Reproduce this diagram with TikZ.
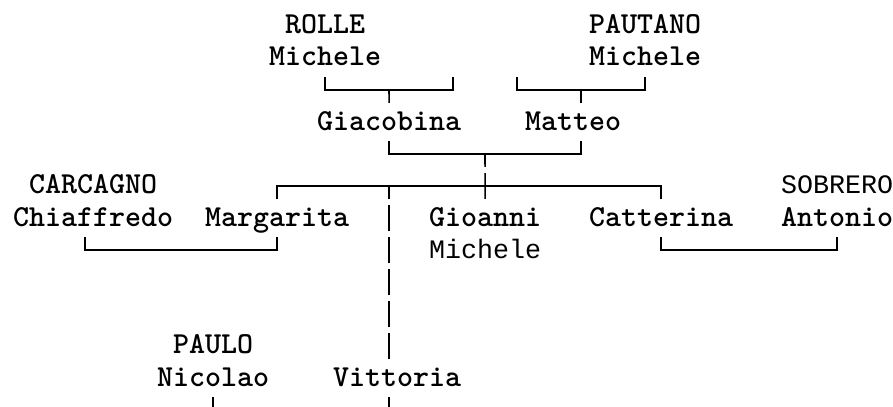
\documentclass[tikz,border=0pt]{standalone}
\usepackage{fontspec}
\usepackage{tikz}
\usetikzlibrary{positioning, calc}
\newfontfamily\sansmono{Liberation Mono}
\tikzstyle{person} = [inner sep=0pt, text height=21pt, text depth=5pt, font=\fontsize{30.48pt}{32pt}\ttfamily\bfseries]
\tikzstyle{person2} = [person, font=\fontsize{26.66pt}{32pt}\sansmono]
\tikzstyle{link} = [line width=1.6pt]
\tikzstyle{gapline} = [link, dash pattern=on 25.6pt off 6.4pt, dash phase=12.8pt]

\begin{document}
\begin{tikzpicture}[x=16pt, y=-32pt]
    \useasboundingbox (-0.8125,-0.8125) rectangle (55,11.906);
    \coordinate (bottom) at (0,11.906);

    % Grandparents (top)
    \node (rolle) [person, anchor=west] at (16,1) {Michele};
    \node (rolleS) [person, above=6pt of rolle] {ROLLE};
    \node (pautano) [person, anchor=west] at (36,1) {Michele};
    \node (pautanoS) [person, above=6pt of pautano] {PAUTANO};

    % Parents
    \node (giacobina) [person, anchor=west] at (19,3) {Giacobina};
    \node (matteo) [person, anchor=west] at (32,3) {Matteo};

    % Children with spouses
    \node (chiaffredo) [person, anchor=west] at (0,6) {Chiaffredo};
    \node (chiaffredoS) [person, above=6pt of chiaffredo] {CARCAGNO};
    \node (margarita) [person, anchor=west] at (12,6) {Margarita};
    \node (gioanni) [person, anchor=west] at (26,6) {Gioanni};
    \node (gioanni2) [person2, below=6pt of gioanni] {Michele};
    \node (catterina) [person, anchor=west] at (36,6) {Catterina};
    \node (antonio) [person, anchor=west] at (48,6) {Antonio};
    \node (antonioS) [person2, above=6pt of antonio] {SOBRERO};

    % Bottom
    \node (nicolao) [person, anchor=west] at (9,11) {Nicolao};
    \node (nicolaoS) [person, above=6pt of nicolao] {PAULO};
    \node (vittoria) [person, anchor=west] at (20,11) {Vittoria};

    % Couples and descent lines
    \coordinate (rolleM) at (23.5,2);
    \coordinate (rolleX) at (27.5,1.6);
    \draw [link, shorten <=6pt] (rolle.south) |- (rolleM) -| (rolleX);
    \draw [link, shorten >=6pt] (rolleM) -- (giacobina.north);

    \coordinate (pautanoM) at (35.5,2);
    \coordinate (pautanoX) at (31.5,1.6);
    \draw [link, shorten <=6pt] (pautano.south) |- (pautanoM) -| (pautanoX);
    \draw [link, shorten >=6pt] (pautanoM) -- (pautanoM |- matteo.north);

    \coordinate (parentsM) at (29.5,4);
    \draw [link, shorten <=6pt, shorten >=6pt] (giacobina.south) |- (parentsM) -| ([xshift=8pt]matteo.south);
    \draw [gapline, shorten >=6pt] (parentsM) -- (gioanni.north);

    \coordinate (sibM) at (29.5,5);
    \coordinate (sibV) at (23.5,5);
    \draw [link, shorten <=6pt, shorten >=6pt] (margarita.north) |- (sibM) -| (catterina.north);
    \draw [gapline, shorten >=6pt] (sibV) -- (sibV |- vittoria.north);

    \coordinate (carcagnoM) at (10.5,7);
    \draw [link, shorten <=6pt, shorten >=6pt] ([xshift=-8pt]chiaffredo.south) |- (carcagnoM) -| (margarita.south);
    \coordinate (sobreroM) at (46,7);
    \draw [link, shorten <=6pt, shorten >=6pt] (catterina.south) |- (sobreroM) -| (antonio.south);

    \draw [link, shorten <=6pt] (nicolao.south) -- (nicolao.south |- bottom);
    \draw [link, shorten <=6pt] (sibV |- vittoria.south) -- (sibV |- bottom);
\end{tikzpicture}
\end{document}
